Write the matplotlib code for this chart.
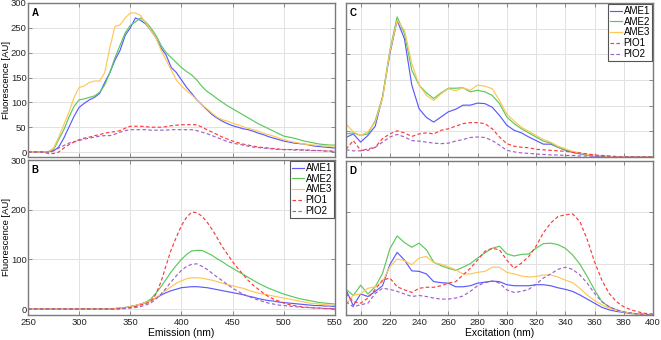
import numpy as np
import matplotlib
matplotlib.use("Agg")
import matplotlib.pyplot as plt

plt.rcParams['font.family'] = ['Liberation Sans', 'DejaVu Sans']

# ---------------- data ----------------
em_x = [250, 255, 260, 265, 270, 275, 280, 285, 290, 295, 300, 305, 310, 315, 320, 325, 330, 335, 340, 345,
        350, 355, 360, 365, 370, 375, 380, 385, 390, 395, 400, 405, 410, 415, 420, 425, 430, 435, 440, 445,
        450, 455, 460, 465, 470, 475, 480, 485, 490, 495, 500, 505, 510, 515, 520, 525, 530, 535, 540, 545, 550]

# Panel A (emission)
A_AME1 = [0, 0, 0, 0, 1, 2, 10, 28, 50, 72, 90, 98, 105, 110, 118, 140, 160, 185, 205, 235,
          250, 270, 265, 258, 245, 230, 210, 195, 170, 160, 145, 130, 118, 105, 95, 85, 75, 68, 62, 57,
          53, 50, 47, 45, 42, 38, 35, 31, 28, 25, 22, 20, 18, 17, 16, 14, 12, 11, 10, 9, 8]
A_AME2 = [0, 0, 0, 0, 1, 5, 25, 45, 70, 92, 105, 107, 110, 113, 120, 135, 160, 190, 215, 240,
          255, 262, 270, 262, 250, 235, 215, 200, 190, 180, 170, 162, 155, 145, 132, 122, 115, 107, 100, 93,
          87, 81, 75, 69, 63, 57, 52, 47, 42, 37, 32, 30, 28, 25, 22, 20, 18, 16, 15, 14, 14]
A_AME3 = [0, 0, 0, 0, 1, 8, 30, 55, 80, 110, 130, 133, 140, 143, 143, 160, 210, 253, 256, 270,
          280, 280, 275, 260, 245, 230, 205, 185, 165, 145, 133, 123, 115, 105, 95, 87, 78, 70, 65, 62,
          58, 55, 51, 48, 45, 42, 38, 35, 32, 28, 25, 22, 20, 18, 16, 15, 14, 13, 12, 12, 12]
A_PIO1 = [0, 0, 0, 0, -3, -3, 0, 8, 15, 20, 25, 28, 30, 33, 35, 38, 40, 41, 43, 48,
          52, 52, 52, 51, 50, 50, 50, 51, 53, 54, 55, 55, 55, 55, 50, 45, 40, 35, 30, 26,
          22, 19, 16, 14, 12, 10, 9, 8, 7, 6, 5, 5, 5, 5, 4, 4, 3, 3, 2, 2, 1]
A_PIO2 = [0, 0, 0, 0, 0, 3, 8, 13, 18, 21, 23, 26, 28, 30, 32, 33, 33, 36, 40, 43,
          45, 45, 45, 45, 44, 44, 44, 44, 45, 45, 45, 45, 45, 43, 40, 37, 33, 29, 25, 21,
          18, 16, 14, 12, 10, 9, 8, 7, 6, 5, 5, 5, 4, 4, 4, 3, 3, 3, 2, 2, 2]

# Panel B (emission)
B_AME1 = [0, 0, 0, 0, 0, 0, 0, 0, 0, 0, 0, 0, 0, 0, 0, 0, 0, 1, 2, 3,
          5, 7, 10, 13, 17, 22, 28, 33, 37, 40, 43, 44, 45, 45, 44, 43, 41, 39, 37, 35,
          33, 31, 29, 26, 24, 21, 19, 17, 16, 14, 13, 12, 11, 10, 9, 8, 7, 7, 6, 6, 5]
B_AME2 = [0, 0, 0, 0, 0, 0, 0, 0, 0, 0, 0, 0, 0, 0, 0, 0, 0, 1, 2, 3,
          5, 7, 10, 14, 20, 32, 45, 60, 75, 88, 100, 110, 117, 118, 118, 113, 108, 101, 95, 88,
          82, 76, 70, 64, 58, 52, 47, 42, 38, 34, 30, 27, 24, 21, 19, 17, 15, 13, 12, 11, 10]
B_AME3 = [0, 0, 0, 0, 0, 0, 0, 0, 0, 0, 0, 0, 0, 0, 0, 0, 0, 1, 2, 3,
          5, 7, 10, 13, 17, 23, 30, 38, 45, 52, 57, 61, 63, 63, 62, 60, 58, 55, 52, 49,
          47, 44, 42, 38, 35, 32, 30, 28, 26, 24, 22, 20, 18, 16, 14, 12, 11, 10, 9, 8, 7]
B_PIO1 = [0, 0, 0, 0, 0, 0, 0, 0, 0, 0, 0, 0, 0, 0, 0, 0, 0, 0, 1, 2,
          3, 5, 8, 11, 15, 30, 55, 88, 120, 145, 168, 185, 195, 194, 187, 175, 160, 143, 125, 110,
          95, 82, 70, 58, 48, 40, 32, 25, 20, 16, 12, 9, 7, 5, 4, 3, 2, 2, 1, 1, 0]
B_PIO2 = [0, 0, 0, 0, 0, 0, 0, 0, 0, 0, 0, 0, 0, 0, 0, 0, 0, 0, 0, 1,
          2, 3, 5, 8, 12, 20, 30, 42, 55, 67, 78, 86, 90, 91, 86, 80, 72, 64, 57, 49,
          42, 36, 30, 26, 22, 18, 15, 12, 10, 8, 7, 6, 5, 4, 3, 3, 2, 2, 1, 1, 1]

ex_x = [190, 195, 200, 205, 210, 215, 220, 225, 230, 235, 240, 245, 250, 255, 260, 265, 270, 275, 280, 285,
        290, 295, 300, 305, 310, 315, 320, 325, 330, 335, 340, 345, 350, 355, 360, 365, 370, 375, 380, 385,
        390, 395, 400]

# Panel C (excitation)
C_AME1 = [38, 45, 29, 42, 60, 117, 201, 266, 230, 140, 94, 77, 68, 78, 88, 93, 101, 101, 105, 104,
          97, 81, 62, 52, 47, 39, 32, 25, 25, 19, 13, 9, 6, 4, 2, 1, 1, 0, 0, 0, 0, 0, 0]
C_AME2 = [45, 47, 42, 45, 71, 117, 208, 273, 240, 169, 140, 125, 114, 125, 134, 134, 135, 127, 130, 127,
          120, 104, 78, 65, 55, 47, 39, 31, 27, 19, 14, 10, 7, 5, 3, 2, 1, 0, 0, 0, 0, 0, 0]
C_AME3 = [64, 49, 42, 49, 68, 114, 205, 266, 247, 182, 140, 120, 110, 123, 133, 129, 135, 130, 140, 138,
          133, 110, 84, 70, 58, 50, 42, 34, 29, 21, 16, 11, 8, 5, 3, 2, 1, 0, 0, 0, 0, 0, 0]
C_PIO1 = [15, 32, 13, 13, 19, 36, 45, 51, 47, 40, 45, 47, 45, 52, 55, 60, 65, 67, 67, 65,
          55, 39, 26, 21, 19, 18, 15, 14, 13, 12, 11, 9, 8, 6, 4, 3, 2, 1, 0, 0, 0, 0, 0]
C_PIO2 = [14, 12, 12, 16, 19, 29, 39, 44, 39, 32, 31, 29, 27, 26, 27, 31, 34, 38, 39, 38,
          32, 23, 13, 10, 8, 7, 6, 5, 4, 4, 3, 3, 2, 2, 1, 1, 0, 0, 0, 0, 0, 0, 0]

# Panel D (excitation)
D_AME1 = [49, 18, 41, 36, 46, 57, 98, 122, 107, 86, 85, 80, 65, 63, 62, 55, 55, 57, 62, 64,
          66, 65, 59, 57, 57, 57, 59, 59, 57, 53, 50, 46, 39, 31, 23, 15, 10, 7, 5, 3, 2, 1, 0]
D_AME2 = [50, 38, 58, 41, 55, 81, 129, 154, 141, 132, 140, 127, 103, 96, 91, 87, 93, 100, 111, 121,
          130, 134, 119, 115, 118, 119, 130, 139, 140, 137, 130, 117, 99, 75, 49, 26, 16, 10, 6, 3, 2, 1, 0]
D_AME3 = [20, 39, 41, 52, 55, 65, 94, 109, 106, 98, 111, 114, 102, 99, 94, 88, 80, 80, 83, 85,
          93, 93, 83, 80, 76, 74, 75, 78, 78, 74, 68, 63, 52, 39, 28, 20, 13, 9, 6, 4, 2, 1, 0]
D_PIO1 = [42, 26, 23, 33, 50, 68, 72, 55, 49, 44, 52, 54, 54, 57, 62, 65, 78, 91, 107, 124,
          130, 127, 107, 91, 101, 114, 134, 160, 179, 192, 195, 197, 182, 147, 104, 68, 42, 26, 16, 10, 6, 3, 2]
D_PIO2 = [26, 16, 20, 23, 42, 52, 50, 46, 41, 36, 38, 36, 33, 31, 31, 33, 37, 46, 57, 63,
          66, 62, 49, 44, 46, 50, 60, 72, 80, 89, 93, 89, 78, 62, 42, 26, 16, 10, 6, 4, 2, 1, 0]

labels = ['AME1', 'AME2', 'AME3', 'PIO1', 'PIO2']
colors = ['#5a5aff', '#5cc85c', '#ffc658', '#ff3a3a', '#a060c8']
styles = ['-', '-', '-', '--', '--']

# ---------------- figure ----------------
W, H = 661, 340
fig = plt.figure(figsize=(W / 100, H / 100), dpi=100)

def box(l, t, r, b):
    return [l / W, 1 - b / H, (r - l) / W, (b - t) / H]

axA = fig.add_axes(box(28, 3, 335, 157))
axB = fig.add_axes(box(28, 160, 335, 315))
axC = fig.add_axes(box(346, 3, 653, 157))
axD = fig.add_axes(box(346, 161, 653, 315))

def style(ax):
    ax.grid(True, color='#e2e2e2', linewidth=0.7)
    ax.set_axisbelow(True)
    for s in ax.spines.values():
        s.set_color('#7a7a7a')
        s.set_linewidth(1.0)
    ax.tick_params(direction='in', length=3, width=0.6, colors='#7a7a7a',
                   labelcolor='#262626', labelsize=6.8, top=True, right=True, pad=2)
    ax.tick_params(axis='y', pad=1.0)

def draw(ax, xs, ys_list):
    for y, lab, c, ls in zip(ys_list, labels, colors, styles):
        kw = dict(dashes=(3, 2)) if ls == '--' else {}
        ax.plot(xs, y, color=c, linestyle=ls, linewidth=0.85, label=lab, **kw)

draw(axA, em_x, [A_AME1, A_AME2, A_AME3, A_PIO1, A_PIO2])
draw(axB, em_x, [B_AME1, B_AME2, B_AME3, B_PIO1, B_PIO2])
draw(axC, ex_x, [C_AME1, C_AME2, C_AME3, C_PIO1, C_PIO2])
draw(axD, ex_x, [D_AME1, D_AME2, D_AME3, D_PIO1, D_PIO2])

for ax in (axA, axB, axC, axD):
    style(ax)

axA.set_xlim(250, 550); axA.set_ylim(-10, 300)
axA.set_xticks(np.arange(250, 551, 50)); axA.set_xticklabels([])
axA.set_yticks(np.arange(0, 301, 50))

axB.set_xlim(250, 550); axB.set_ylim(-12, 300)
axB.set_xticks(np.arange(250, 551, 50))
axB.set_yticks([0, 100, 200, 300])

axC.set_xlim(190, 400); axC.set_ylim(0, 300)
axC.set_xticks(np.arange(200, 401, 20)); axC.set_xticklabels([])
axC.set_yticks(np.arange(0, 301, 50)); axC.set_yticklabels([])

axD.set_xlim(190, 400); axD.set_ylim(0, 300)
axD.set_xticks(np.arange(200, 401, 20))
axD.set_yticks([0, 100, 200, 300]); axD.set_yticklabels([])

for ax in (axA, axB):
    ax.set_ylabel('Fluorescence [AU]', fontsize=6.8)
    ax.yaxis.set_label_coords(-0.056, 0.5)
axB.set_xlabel('Emission (nm)', fontsize=7.5, labelpad=1)
axD.set_xlabel('Excitation (nm)', fontsize=7.5, labelpad=1)

for ax, letter in zip((axA, axB, axC, axD), 'ABCD'):
    ax.text(0.012, 0.97, letter, transform=ax.transAxes, fontsize=7,
            fontweight='bold', va='top', ha='left')

for ax in (axB, axC):
    leg = ax.legend(loc='upper right', fontsize=7, handlelength=1.25, handletextpad=0.15,
                    labelspacing=0.08, borderpad=0.2, borderaxespad=0.1,
                    fancybox=False, framealpha=1)
    leg.get_frame().set_edgecolor('#555555')
    leg.get_frame().set_linewidth(0.8)

fig.savefig('out.png', dpi=100)
